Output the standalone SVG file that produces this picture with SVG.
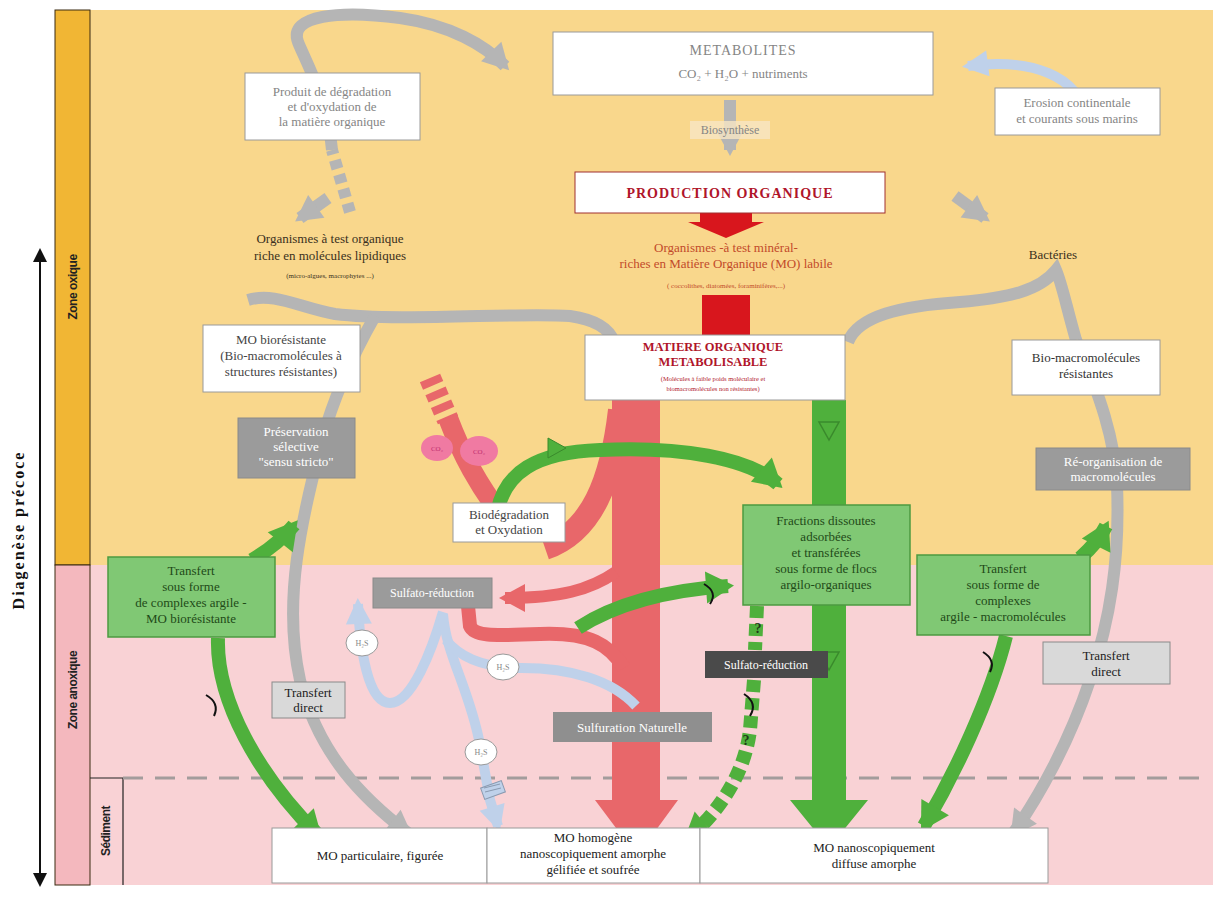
<svg xmlns="http://www.w3.org/2000/svg" width="1213" height="897" viewBox="0 0 1213 897">
<style>
text{font-family:"Liberation Serif","Times New Roman",serif;font-size:13px;text-anchor:middle}
.wbox{fill:#fff;stroke:#9a9a9a;stroke-width:1}
.gbox{fill:#9b9b9b;stroke:#8a8a8a}
.lgbox{fill:#d9d9d9;stroke:#8a8a8a}
.grn{fill:#80c874;stroke:#4c9a40;stroke-width:1.5}
.wt{fill:#fff}
.gt{fill:#858585}
.dt{fill:#3a3020}
.gnt{fill:#1f4a18}
.gray{fill:none;stroke:#b5b5b5;stroke-width:12}
.blue{fill:none;stroke:#bfd1ea;stroke-width:10}
.red{fill:none;stroke:#e8676a}
.green{fill:none;stroke:#4fb03c;stroke-width:14}
.mark{fill:none;stroke:#111;stroke-width:2}
</style>
<defs>
<marker id="hGr" markerUnits="userSpaceOnUse" markerWidth="40" markerHeight="40" refX="26" refY="20" orient="auto"><path d="M6,6 L32,20 L6,34 Z" fill="#b5b5b5"/></marker>
<marker id="hG" markerUnits="userSpaceOnUse" markerWidth="44" markerHeight="44" refX="28" refY="22" orient="auto"><path d="M6,6 L34,22 L6,38 Z" fill="#4fb03c"/></marker>
<marker id="hB" markerUnits="userSpaceOnUse" markerWidth="40" markerHeight="40" refX="26" refY="20" orient="auto"><path d="M6,7 L32,20 L6,33 Z" fill="#bfd1ea"/></marker>
<marker id="hR" markerUnits="userSpaceOnUse" markerWidth="40" markerHeight="40" refX="26" refY="20" orient="auto"><path d="M6,6 L32,20 L6,34 Z" fill="#e8676a"/></marker>
</defs>

<!-- backgrounds -->
<rect x="0" y="0" width="1213" height="897" fill="#fff"/>
<rect x="90" y="10" width="1123" height="555" fill="#f9d78c"/>
<rect x="90" y="565" width="1123" height="320" fill="#f9d2d5"/>
<rect x="55" y="10" width="35" height="555" fill="#f1b634" stroke="#3a2a10" stroke-width="1"/>
<rect x="55" y="565" width="35" height="320" fill="#f4b8be" stroke="#3a2a10" stroke-width="1"/>
<path d="M90 778 H123 V885" fill="none" stroke="#222" stroke-width="1.2"/>
<line x1="123" y1="778" x2="1208" y2="778" stroke="#a39c9c" stroke-width="3" stroke-dasharray="20 12"/>

<g id="side">
<line x1="40" y1="258" x2="40" y2="877" stroke="#111" stroke-width="2"/>
<path d="M33 262 L40 248 L47 262 Z" fill="#111"/>
<path d="M33 873 L40 887 L47 873 Z" fill="#111"/>
<text transform="translate(24 530) rotate(-90)" style="font-size:16px;font-weight:bold;letter-spacing:2px" fill="#111">Diagenèse précoce</text>
<text transform="translate(77 287) rotate(-90)" style="font-family:'Liberation Sans',sans-serif;font-size:12px;font-weight:bold;letter-spacing:-0.5px" fill="#222">Zone oxique</text>
<text transform="translate(77 690) rotate(-90)" style="font-family:'Liberation Sans',sans-serif;font-size:12px;font-weight:bold;letter-spacing:-0.5px" fill="#222">Zone anoxique</text>
<text transform="translate(110 831) rotate(-90)" style="font-family:'Liberation Sans',sans-serif;font-size:12px;font-weight:bold;letter-spacing:-0.5px" fill="#222">Sédiment</text>
</g>

<g id="connectors">
<!-- gray flows -->
<path class="gray" d="M350 212 L332 150" stroke-dasharray="9 6"/>
<path class="gray" d="M332 150 C328 100 305 60 298 42 C288 15 340 10 400 18 C450 25 485 45 505 66" marker-end="url(#hGr)"/>
<path class="gray" d="M730 100 L730 150" marker-end="url(#hGr)" stroke-width="10"/>
<path class="gray" d="M328 198 L300 218" marker-end="url(#hGr)" stroke-width="10"/>
<path class="gray" d="M955 196 L985 218" marker-end="url(#hGr)" stroke-width="10"/>
<path class="gray" d="M248 300 C275 292 300 308 335 314 C400 322 520 312 570 316 C598 320 610 330 614 342" stroke="#a9a9a9"/>
<path class="gray" d="M375 316 C350 360 333 400 322 440 C302 520 282 600 300 680 C318 755 365 800 408 833" marker-end="url(#hGr)"/>
<path class="gray" d="M848 342 C858 316 900 306 960 302 C1010 298 1040 290 1056 270 C1062 284 1066 305 1076 340" stroke="#a0a0a0"/>
<path class="gray" d="M1076 340 C1100 395 1115 440 1117 485 C1120 560 1110 620 1090 680 C1070 740 1040 795 1014 832" marker-end="url(#hGr)"/>
<path class="blue" d="M1085 118 C1080 75 1030 58 968 66" stroke-width="12" marker-end="url(#hB)"/>

<!-- red flows -->
<rect x="700" y="213" width="52" height="10" fill="#d8161d"/>
<path d="M688 222 L764 222 L726 238 Z" fill="#d8161d"/>
<rect x="702" y="295" width="48" height="42" fill="#d8161d"/>
<path class="red" stroke-width="22" d="M430 378 L448 420" stroke-dasharray="8 6"/>
<path class="red" stroke-width="20" d="M448 418 C462 455 478 485 505 520"/>
<path class="red" stroke-width="24" d="M620 410 C612 480 592 532 545 548"/>
<rect x="612" y="400" width="48" height="402" fill="#e8676a"/>
<path d="M595 800 L678 800 L637 856 Z" fill="#e8676a"/>
<path class="red" stroke-width="12" d="M616 572 C590 590 560 598 505 598" marker-end="url(#hR)"/>
<path class="red" stroke-width="14" d="M468 606 L470 626 C474 636 490 636 540 634 C590 632 610 645 624 668"/>

<!-- blue flows -->
<path class="blue" d="M443 612 C432 650 412 703 390 703 C368 703 360 650 358 604" marker-end="url(#hB)"/>
<path class="blue" d="M443 614 C446 655 470 690 480 745 L490 800 L498 826" marker-end="url(#hB)"/>
<path class="blue" d="M446 640 C462 660 490 668 522 668 C570 668 612 680 636 706"/>
<rect x="482" y="784" width="22" height="12" fill="#bfd1ea" stroke="#8a9ab0" transform="rotate(-20 493 790)"/>
<path d="M484 788 L500 784 M485 792 L501 788" stroke="#8a9ab0" stroke-width="1"/>

<!-- green flows -->
<rect x="812" y="400" width="34" height="402" fill="#4fb03c"/>
<path d="M790 800 L868 800 L829 848 Z" fill="#4fb03c"/>
<path d="M819 422 L839 422 L829 440 Z" fill="none" stroke="#3a8a2c" stroke-width="1.5"/>
<path d="M819 652 L839 652 L829 670 Z" fill="none" stroke="#3a8a2c" stroke-width="1.5"/>
<path class="green" d="M496 522 C500 470 540 452 600 450 C680 446 748 458 778 484" marker-end="url(#hG)"/>
<path d="M548 438 L566 448 L548 458 Z" fill="#4fb03c" stroke="#3a8a2c" stroke-width="1"/>
<path class="green" d="M578 628 C618 602 670 590 728 586" marker-end="url(#hG)"/>
<path class="green" d="M757 606 L755 650 M754 680 L750 730 C744 780 712 818 688 838" stroke-dasharray="12 6" marker-end="url(#hG)"/>
<path class="green" d="M252 560 C272 548 286 535 294 525" marker-end="url(#hG)"/>
<path class="green" d="M218 638 C216 700 258 775 318 835" marker-end="url(#hG)"/>
<path class="green" d="M1080 558 C1094 546 1102 534 1106 526" marker-end="url(#hG)"/>
<path class="green" d="M1006 636 C990 700 954 775 924 826" marker-end="url(#hG)"/>
<path class="mark" d="M704 584 Q718 592 710 604"/>
<path class="mark" d="M206 695 Q220 703 214 716"/>
<path class="mark" d="M744 694 Q758 703 750 716"/>
<path class="mark" d="M983 652 Q996 660 990 672"/>
</g>

<g id="metabolites">
<rect class="wbox" x="553" y="32" width="380" height="63"/>
<text x="743" y="55" class="gt" style="font-size:14px;letter-spacing:1px">METABOLITES</text>
<text x="743" y="78" class="gt">CO₂ + H₂O + nutriments</text>
</g>
<g id="biosynthese">
<rect x="690" y="121" width="80" height="18" fill="#f7e6c4" opacity="0.8"/>
<text x="730" y="134" class="gt" style="font-size:12px">Biosynthèse</text>
</g>
<g id="production">
<rect x="575" y="172" width="310" height="41" fill="#fff" stroke="#a03030" stroke-width="1"/>
<text x="730" y="198" fill="#b0152a" style="font-weight:bold;font-size:14px;letter-spacing:1px">PRODUCTION ORGANIQUE</text>
</g>
<g id="organismes-mineral">
<text x="726" y="252" fill="#c24a2a">Organismes -à test minéral-</text>
<text x="726" y="268" fill="#c24a2a">riches en Matière Organique (MO) labile</text>
<text x="726" y="288" fill="#c24a2a" style="font-size:7px">( coccolithes, diatomées, foraminifères,...)</text>
</g>
<g id="mo-metabolisable">
<rect class="wbox" x="585" y="335" width="260" height="65"/>
<text x="713" y="351" fill="#b0152a" style="font-weight:bold;font-size:12.5px">MATIERE ORGANIQUE</text>
<text x="713" y="366" fill="#b0152a" style="font-weight:bold;font-size:12.5px">METABOLISABLE</text>
<text x="713" y="381" fill="#b0152a" style="font-size:6.5px">(Molécules à faible poids moléculaire et</text>
<text x="713" y="391" fill="#b0152a" style="font-size:6.5px">biomacromolécules non résistantes)</text>
</g>
<g id="produit-degradation">
<rect class="wbox" x="245" y="73" width="175" height="67" stroke="none"/>
<text x="332" y="96" class="gt">Produit de dégradation</text>
<text x="332" y="111" class="gt">et d'oxydation de</text>
<text x="332" y="126" class="gt">la matière organique</text>
</g>
<g id="erosion">
<rect class="wbox" x="995" y="88" width="165" height="47" stroke="none"/>
<text x="1077" y="107" class="gt">Erosion continentale</text>
<text x="1077" y="123" class="gt">et courants sous marins</text>
</g>
<g id="organismes-organique">
<text x="330" y="243" class="dt">Organismes à test organique</text>
<text x="330" y="260" class="dt">riche en molécules lipidiques</text>
<text x="330" y="278" class="dt" style="font-size:7px">(micro-algues, macrophytes ...)</text>
</g>
<g id="bacteries"><text x="1053" y="259" class="dt">Bactéries</text></g>
<g id="mo-bioresistante">
<rect class="wbox" x="203" y="325" width="157" height="67"/>
<text x="281" y="344" fill="#444">MO biorésistante</text>
<text x="281" y="360" fill="#444">(Bio-macromolécules à</text>
<text x="281" y="376" fill="#444">structures résistantes)</text>
</g>
<g id="preservation">
<rect class="gbox" x="238" y="418" width="117" height="60"/>
<text x="296" y="436" class="wt">Préservation</text>
<text x="296" y="451" class="wt">sélective</text>
<text x="296" y="466" class="wt">"sensu stricto"</text>
</g>
<g id="co2-1"><ellipse cx="437" cy="448" rx="16" ry="13" fill="#f07aa2"/><text x="437" y="451" fill="#c03070" style="font-size:7px">CO₂</text></g>
<g id="co2-2"><ellipse cx="479" cy="451" rx="19" ry="15" fill="#f07aa2"/><text x="479" y="454" fill="#c03070" style="font-size:7px">CO₂</text></g>
<g id="biodegradation">
<rect class="wbox" x="453" y="503" width="112" height="39"/>
<text x="509" y="519" fill="#444">Biodégradation</text>
<text x="509" y="534" fill="#444">et Oxydation</text>
</g>
<g id="fractions">
<rect class="grn" x="743" y="505" width="167" height="100"/>
<text x="826" y="525" class="gnt">Fractions dissoutes</text>
<text x="826" y="541" class="gnt">adsorbées</text>
<text x="826" y="557" class="gnt">et transférées</text>
<text x="826" y="573" class="gnt">sous forme de flocs</text>
<text x="826" y="589" class="gnt">argilo-organiques</text>
</g>
<g id="q1"><text x="758" y="633" fill="#1f3a18" style="font-weight:bold;font-size:14px">?</text></g>
<g id="q2"><text x="746" y="745" fill="#1f3a18" style="font-weight:bold;font-size:14px">?</text></g>
<g id="transfert-left">
<rect class="grn" x="108" y="557" width="167" height="80"/>
<text x="191" y="575" class="gnt">Transfert</text>
<text x="191" y="591" class="gnt">sous forme</text>
<text x="191" y="607" class="gnt">de complexes argile -</text>
<text x="191" y="623" class="gnt">MO biorésistante</text>
</g>
<g id="sulfato-1">
<rect class="gbox" x="373" y="578" width="119" height="30"/>
<text x="432" y="597" class="wt" style="font-size:12px">Sulfato-réduction</text>
</g>
<g id="h2s-1"><ellipse cx="362" cy="643" rx="16" ry="13" fill="#fff" stroke="#999"/><text x="362" y="646" fill="#888" style="font-size:8px">H₂S</text></g>
<g id="h2s-2"><ellipse cx="503" cy="667" rx="16" ry="13" fill="#fff" stroke="#999"/><text x="503" y="670" fill="#888" style="font-size:8px">H₂S</text></g>
<g id="h2s-3"><ellipse cx="481" cy="752" rx="16" ry="13" fill="#fff" stroke="#999"/><text x="481" y="755" fill="#888" style="font-size:8px">H₂S</text></g>
<g id="transfert-direct-left">
<rect class="lgbox" x="272" y="682" width="73" height="36"/>
<text x="308" y="697" fill="#222">Transfert</text>
<text x="308" y="712" fill="#222">direct</text>
</g>
<g id="sulfato-2">
<rect x="705" y="651" width="123" height="27" fill="#4a4a4a"/>
<text x="766" y="669" class="wt" style="font-size:12px">Sulfato-réduction</text>
</g>
<g id="sulfuration">
<rect x="553" y="712" width="159" height="30" fill="#8f8f8f"/>
<text x="632" y="732" class="wt">Sulfuration Naturelle</text>
</g>
<g id="bio-macro">
<rect class="wbox" x="1012" y="340" width="148" height="55"/>
<text x="1086" y="362" fill="#333">Bio-macromolécules</text>
<text x="1086" y="378" fill="#333">résistantes</text>
</g>
<g id="reorganisation">
<rect class="gbox" x="1036" y="448" width="154" height="42"/>
<text x="1113" y="466" class="wt">Ré-organisation de</text>
<text x="1113" y="481" class="wt">macromolécules</text>
</g>
<g id="transfert-right">
<rect class="grn" x="917" y="555" width="173" height="80"/>
<text x="1003" y="573" class="gnt">Transfert</text>
<text x="1003" y="589" class="gnt">sous forme de</text>
<text x="1003" y="605" class="gnt">complexes</text>
<text x="1003" y="621" class="gnt">argile - macromolécules</text>
</g>
<g id="transfert-direct-right">
<rect class="lgbox" x="1043" y="642" width="127" height="42"/>
<text x="1106" y="660" fill="#222">Transfert</text>
<text x="1106" y="676" fill="#222">direct</text>
</g>
<g id="mo-particulaire">
<rect class="wbox" x="272" y="828" width="215" height="55"/>
<text x="380" y="860" fill="#222">MO particulaire, figurée</text>
</g>
<g id="mo-homogene">
<rect class="wbox" x="487" y="828" width="213" height="55"/>
<text x="593" y="842" fill="#222">MO homogène</text>
<text x="593" y="858" fill="#222">nanoscopiquement amorphe</text>
<text x="593" y="874" fill="#222">gélifiée et soufrée</text>
</g>
<g id="mo-diffuse">
<rect class="wbox" x="700" y="828" width="348" height="55"/>
<text x="874" y="852" fill="#222">MO nanoscopiquement</text>
<text x="874" y="868" fill="#222">diffuse amorphe</text>
</g>
</svg>
